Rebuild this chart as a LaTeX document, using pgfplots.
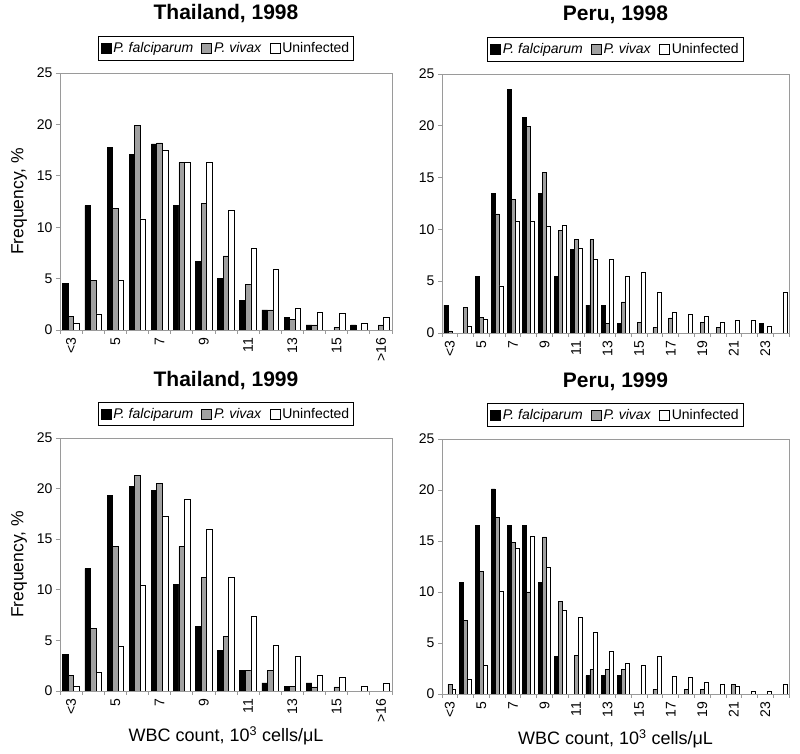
\documentclass[border=0pt]{standalone}
\usepackage{fontspec}
\setmainfont{Liberation Sans}
\usepackage{pgfplots}
\pgfplotsset{compat=1.18}
\definecolor{vivgray}{HTML}{A0A0A0}
\definecolor{framegray}{HTML}{9A9A9A}
\pgfplotsset{
  panel/.style={
    scale only axis,
    ymin=0, ymax=25, ytick={0,5,...,25},
    tick align=outside, major tick length=4pt, minor tick length=4pt,
    axis line style={draw=framegray, line width=0.8pt},
    tick style={draw=framegray, line width=0.8pt},
    major x tick style={draw=none},
    /pgf/number format/assume math mode=true,
    tick label style={font=\fontsize{14}{16}\selectfont},
    x tick label style={rotate=90, anchor=east},
    ytick pos=left, xtick pos=bottom,
    title style={at={(axis description cs:0.5,1)}, anchor=center, font=\fontsize{21}{24}\selectfont\bfseries},
    legend style={at={(axis description cs:0.5,1)}, anchor=center, draw=black, line width=0.8pt,
      font=\fontsize{14}{16}\selectfont, inner xsep=2.5pt, inner ysep=4pt,
      /tikz/every even column/.append style={column sep=6pt}},
    legend columns=3,
    legend image code/.code={\draw[#1] (0pt,-5pt) rectangle (10pt,5pt);},
    ylabel style={font=\fontsize{17.5}{20}\selectfont},
    xlabel style={font=\fontsize{18}{20}\selectfont},
  },
  thai/.style={xmin=-0.5, xmax=14.5, xtick={0,2,...,14},
    xticklabels={<3,5,7,9,11,13,15,>16}, minor xtick={-0.5,0.5,...,14.5}},
  peru/.style={xmin=-0.5, xmax=21.5, xtick={0,2,...,20},
    xticklabels={<3,5,7,9,11,13,15,17,19,21,23}, minor xtick={-0.5,0.5,...,21.5}},
  fal/.style={ybar, fill=black, draw=black, line width=0.7pt, bar width=0.25, bar shift=-0.25},
  viv/.style={ybar, fill=vivgray, draw=black, line width=0.7pt, bar width=0.25, bar shift=0},
  uni/.style={ybar, fill=white, draw=black, line width=0.7pt, bar width=0.25, bar shift=0.25},
}
\begin{document}
\begin{tikzpicture}
\useasboundingbox (0,0) rectangle (800pt,754pt);
% Thailand 1998
\begin{axis}[panel, thai, at={(60pt,424pt)}, anchor=south west, width=332pt, height=257pt,
  title={Thailand, 1998}, title style={yshift=53pt}, legend style={yshift=24.5pt},
  ylabel={Frequency, \%}, ylabel style={at={(axis description cs:-0.1235,0.5)}, anchor=center}]
\addplot[fal] coordinates {(0,4.5)(1,12.1)(2,17.8)(3,17.1)(4,18.1)(5,12.1)(6,6.65)(7,5.0)(8,2.9)(9,1.95)(10,1.2)(11,0.5)(13,0.5)};
\addplot[viv] coordinates {(0,1.3)(1,4.8)(2,11.8)(3,19.9)(4,18.2)(5,16.3)(6,12.3)(7,7.2)(8,4.4)(9,1.95)(10,1.0)(11,0.5)(12,0.25)(14,0.5)};
\addplot[uni] coordinates {(0,0.6)(1,1.56)(2,4.8)(3,10.8)(4,17.5)(5,16.3)(6,16.3)(7,11.6)(8,7.9)(9,5.9)(10,2.1)(11,1.7)(12,1.6)(13,0.6)(14,1.2)};
\legend{\textit{P. falciparum}, \textit{P. vivax}, Uninfected}
\end{axis}
% Peru 1998
\begin{axis}[panel, peru, at={(442pt,421pt)}, anchor=south west, width=347pt, height=259pt,
  title={Peru, 1998}, title style={yshift=53pt}, legend style={yshift=24.5pt}]
\addplot[fal] coordinates {(0,2.7)(2,5.45)(3,13.5)(4,23.5)(5,20.8)(6,13.5)(7,5.45)(8,8.1)(9,2.7)(10,2.7)(11,0.9)(20,0.9)};
\addplot[viv] coordinates {(0,0.2)(1,2.5)(2,1.5)(3,11.5)(4,12.9)(5,19.9)(6,15.5)(7,9.9)(8,9.0)(9,9.0)(10,0.96)(11,3.0)(12,1.0)(13,0.5)(14,1.45)(16,1.0)(17,0.5)};
\addplot[uni] coordinates {(1,0.6)(2,1.3)(3,4.55)(4,10.8)(5,10.8)(6,10.25)(7,10.4)(8,8.2)(9,7.15)(10,7.15)(11,5.5)(12,5.9)(13,3.9)(14,2.0)(15,1.8)(16,1.6)(17,1.0)(18,1.2)(19,1.2)(20,0.6)(21,3.9)};
\legend{\textit{P. falciparum}, \textit{P. vivax}, Uninfected}
\end{axis}
% Thailand 1999
\begin{axis}[panel, thai, at={(60pt,63pt)}, anchor=south west, width=332pt, height=253pt,
  title={Thailand, 1999}, title style={yshift=51pt}, legend style={yshift=24pt},
  ylabel={Frequency, \%}, ylabel style={at={(axis description cs:-0.1235,0.5)}, anchor=center},
  xlabel={WBC count, 10\textsuperscript{3} cells/μL}, xlabel style={at={(axis description cs:0.5,-0.178)}, anchor=center}]
\addplot[fal] coordinates {(0,3.6)(1,12.1)(2,19.3)(3,20.2)(4,19.8)(5,10.5)(6,6.4)(7,4.0)(8,2.0)(9,0.8)(10,0.45)(11,0.8)};
\addplot[viv] coordinates {(0,1.55)(1,6.2)(2,14.3)(3,21.3)(4,20.5)(5,14.3)(6,11.2)(7,5.4)(8,2.0)(9,2.0)(10,0.45)(11,0.4)(12,0.4)};
\addplot[uni] coordinates {(0,0.5)(1,1.8)(2,4.4)(3,10.4)(4,17.3)(5,18.9)(6,16.0)(7,11.25)(8,7.4)(9,4.55)(10,3.4)(11,1.5)(12,1.3)(13,0.5)(14,0.8)};
\legend{\textit{P. falciparum}, \textit{P. vivax}, Uninfected}
\end{axis}
% Peru 1999
\begin{axis}[panel, peru, at={(442pt,60pt)}, anchor=south west, width=347pt, height=255pt,
  title={Peru, 1999}, title style={yshift=51pt}, legend style={yshift=24pt},
  xlabel={WBC count, 10\textsuperscript{3} cells/μL}, xlabel style={at={(axis description cs:0.5,-0.176)}, anchor=center}]
\addplot[fal] coordinates {(1,10.9)(2,16.5)(3,20.1)(4,16.5)(5,16.5)(6,10.9)(7,3.65)(9,1.8)(10,1.8)(11,1.8)};
\addplot[viv] coordinates {(0,0.95)(1,7.2)(2,12.0)(3,17.3)(4,14.9)(5,10.0)(6,15.4)(7,9.1)(8,3.8)(9,2.4)(10,2.4)(11,2.4)(13,0.45)(15,0.45)(16,0.45)(18,0.95)};
\addplot[uni] coordinates {(0,0.45)(1,1.4)(2,2.8)(3,10.05)(4,14.3)(5,15.5)(6,12.4)(7,8.2)(8,7.5)(9,6.05)(10,4.2)(11,3.0)(12,2.8)(13,3.7)(14,1.75)(15,1.6)(16,1.15)(17,0.95)(18,0.75)(19,0.25)(20,0.25)(21,0.95)};
\legend{\textit{P. falciparum}, \textit{P. vivax}, Uninfected}
\end{axis}
\end{tikzpicture}
\end{document}
